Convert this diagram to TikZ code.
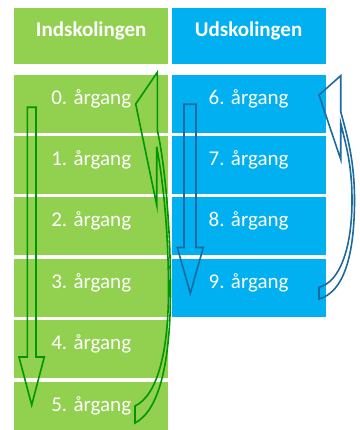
\documentclass[tikz,border=0pt]{standalone}
\usepackage{fontspec}
\setmainfont{Carlito}
\usepackage{tikz}
\usetikzlibrary{positioning}

\definecolor{indgreen}{RGB}{146,208,80}
\definecolor{udblue}{RGB}{0,176,240}
\definecolor{arrowgreen}{RGB}{0,150,0}
\definecolor{arrowblue}{RGB}{28,106,160}

\begin{document}
\begin{tikzpicture}[x=1pt,y=1pt,node distance=3pt,
    box/.style={minimum width=154pt,minimum height=58pt,inner sep=0pt,text=white,
      text height=8pt,text depth=7pt,font=\fontsize{21}{25}\selectfont},
    head/.style={box,minimum height=56pt,font=\fontsize{21}{25}\selectfont\bfseries},
    ind/.style={fill=indgreen},
    ud/.style={fill=udblue},
    blockarrow/.style={line width=1.6pt}]
        \useasboundingbox (0,0) rectangle (359,-430);

        \node[head,ind,anchor=north west] (hind) at (14,-8) {Indskolingen};
        \node[head,ud] (hud) [right = of hind] {Udskolingen};

        \node[box,ind] (a0) [below = 10pt of hind] {0. årgang};
        \node[box,ind] (a1) [below = of a0] {1. årgang};
        \node[box,ind] (a2) [below = of a1] {2. årgang};
        \node[box,ind] (a3) [below = of a2] {3. årgang};
        \node[box,ind] (a4) [below = of a3] {4. årgang};
        \node[box,ind] (a5) [below = of a4] {5. årgang};

        \node[box,ud] (a6) [right = of a0] {6. årgang};
        \node[box,ud] (a7) [right = of a1] {7. årgang};
        \node[box,ud] (a8) [right = of a2] {8. årgang};
        \node[box,ud] (a9) [right = of a3] {9. årgang};

        % straight arrows
        \draw[blockarrow,arrowgreen] (27.3,-107.3) -- (27.3,-357) -- (19,-357) -- (31.7,-405)
          -- (44.3,-357) -- (36,-357) -- (36,-107.3) -- cycle;
        \draw[blockarrow,arrowblue] (184,-104.3) -- (184,-247.5) -- (177.3,-247.5) -- (190.3,-293.3)
          -- (203.3,-247.5) -- (196,-247.5) -- (196,-104.3) -- cycle;

        % curved arrows
        \draw[blockarrow,arrowgreen] (157.3,-72.3) -- (135.7,-104) -- (156.7,-205) -- (156.7,-146.7)
          .. controls (162,-175) and (168.5,-225) .. (168.5,-290)
          .. controls (168.5,-350) and (158,-395) .. (135,-406) -- (135,-423)
          .. controls (160,-410) and (170.5,-360) .. (170.5,-290)
          .. controls (170.5,-220) and (164,-160) .. (157.3,-130) -- cycle;
        \draw[blockarrow,arrowblue] (340.7,-75.7) -- (319,-95) -- (340.7,-159.3) -- (340.7,-123.3)
          .. controls (346,-145) and (352,-165) .. (352,-200)
          .. controls (352,-248) and (340,-282) .. (319,-287.3) -- (319,-299)
          .. controls (344,-292) and (354.5,-255) .. (354.5,-200)
          .. controls (354.5,-160) and (347,-135) .. (340.7,-111.7) -- cycle;
\end{tikzpicture}
\end{document}
